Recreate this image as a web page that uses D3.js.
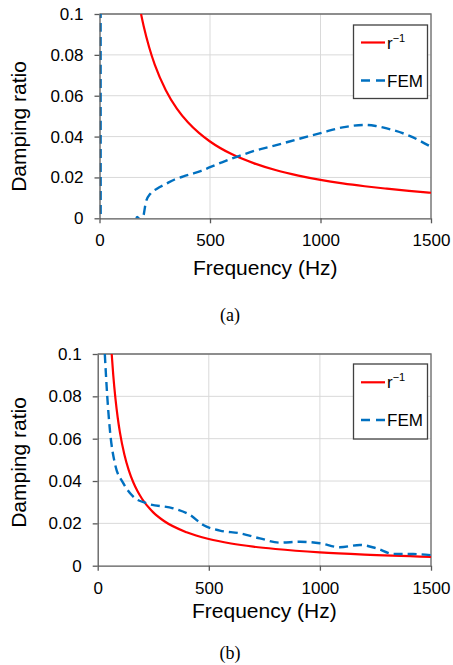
<!DOCTYPE html>
<html lang="en">
<head>
<meta charset="UTF-8">
<title>Damping ratio vs frequency</title>
<script src="https://d3js.org/d3.v7.min.js"></script>
<style>
  body { margin: 0; background: #fff; }
  svg text { font-family: "Liberation Sans", Arial, sans-serif; fill: #000; }
  .cap { font-family: "Liberation Serif", "Times New Roman", serif; }
</style>
</head>
<body>
<div id="chart"></div>
<script>
// axis ticks
const freqTicks = [0, 500, 1000, 1500];
const freqLabels = ["0", "500", "1000", "1500"];
const ratioTicks = [0, 0.02, 0.04, 0.06, 0.08, 0.1];
const ratioLabels = ["0", "0.02", "0.04", "0.06", "0.08", "0.1"];

// panel (a): [frequency Hz, damping ratio]
const topRInv = [[188,0.1],[200,0.094],[225,0.0836],[250,0.0752],[300,0.0627],[350,0.0537],
  [400,0.047],[450,0.0418],[500,0.0376],[600,0.0313],[700,0.0269],[800,0.0235],[900,0.0209],
  [1000,0.0188],[1100,0.0171],[1200,0.0157],[1300,0.0145],[1400,0.0134],[1500,0.0125]];
const topFem = [[4.5,0.5],[5.5,-0.02],[150,-0.01],[170,0.0006],[184,-0.0006],[198,0.001],
  [210,0.008],[230,0.012],[260,0.0145],[300,0.0168],[340,0.019],[380,0.0205],[420,0.0218],
  [460,0.0232],[500,0.025],[550,0.0272],[600,0.0293],[650,0.0312],[700,0.033],[800,0.0358],
  [900,0.0388],[1000,0.0417],[1100,0.0445],[1200,0.0457],[1250,0.0452],[1300,0.044],
  [1400,0.0405],[1500,0.035]];

// panel (b)
const botRInv = [[63,0.1],[70,0.09],[80,0.0788],[90,0.07],[100,0.063],[120,0.0525],[140,0.045],
  [160,0.0394],[180,0.035],[200,0.0315],[250,0.0252],[300,0.021],[400,0.0158],[500,0.0126],
  [600,0.0105],[700,0.009],[800,0.0079],[1000,0.0063],[1200,0.00525],[1500,0.0042]];
const botFem = [[32,0.1],[43,0.08],[55,0.064],[78,0.048],[115,0.039],[160,0.0326],[220,0.0295],
  [340,0.0271],[415,0.024],[475,0.0192],[550,0.0166],[640,0.0153],[730,0.0129],[820,0.0109],
  [910,0.0113],[1000,0.0106],[1090,0.0087],[1180,0.0098],[1255,0.0082],[1330,0.0056],
  [1420,0.0055],[1500,0.005]];

const W = 453, H = 665;
const svg = d3.select("#chart").append("svg").attr("width", W).attr("height", H);

function panel(id, box, rInv, fem, caption) {
  const x = d3.scaleLinear().domain([0, 1500]).range([box.x0, box.x1]);
  const y = d3.scaleLinear().domain([0, 0.1]).range([box.y0, box.y1]);
  const g = svg.append("g");

  // grid
  g.selectAll(".gy").data(ratioTicks.slice(1)).join("line")
    .attr("x1", box.x0).attr("x2", box.x1)
    .attr("y1", d => y(d)).attr("y2", d => y(d))
    .attr("stroke", "#d9d9d9").attr("stroke-width", 1);
  g.selectAll(".gx").data(freqTicks.slice(1)).join("line")
    .attr("x1", d => x(d)).attr("x2", d => x(d))
    .attr("y1", box.y0).attr("y2", box.y1)
    .attr("stroke", "#d9d9d9").attr("stroke-width", 1);

  // frame top / right
  g.append("path")
    .attr("d", `M${box.x0},${box.y1}H${box.x1}V${box.y0}`)
    .attr("fill", "none").attr("stroke", "#6e6e6e").attr("stroke-width", 1.3);

  // clip for data
  svg.append("clipPath").attr("id", id)
    .append("rect").attr("x", box.x0).attr("y", box.y1)
    .attr("width", box.x1 - box.x0).attr("height", box.y0 - box.y1);

  const line = d3.line().x(d => x(d[0])).y(d => y(d[1])).curve(d3.curveMonotoneX);
  const lines = g.append("g").attr("clip-path", `url(#${id})`);
  lines.append("path").datum(rInv).attr("d", line)
    .attr("fill", "none").attr("stroke", "#ff0000").attr("stroke-width", 2.2);
  lines.append("path").datum(fem).attr("d", line)
    .attr("fill", "none").attr("stroke", "#0070c0").attr("stroke-width", 2.4)
    .attr("stroke-dasharray", "9,5");

  // axes
  const ax = g.append("g").attr("transform", `translate(0,${box.y0})`)
    .call(d3.axisBottom(x).tickValues(freqTicks).tickFormat((d, i) => freqLabels[i])
      .tickSize(5).tickPadding(11).tickSizeOuter(0));
  const ay = g.append("g").attr("transform", `translate(${box.x0},0)`)
    .call(d3.axisLeft(y).tickValues(ratioTicks).tickFormat((d, i) => ratioLabels[i])
      .tickSize(5).tickPadding(11).tickSizeOuter(0));
  [ax, ay].forEach(a => {
    a.selectAll("path, line").attr("stroke", "#595959").attr("stroke-width", 1.3);
    a.selectAll("text").attr("font-size", 17)
      .attr("font-family", "'Liberation Sans', Arial, sans-serif").attr("fill", "#000");
  });

  // titles
  g.append("text").attr("x", (box.x0 + box.x1) / 2).attr("y", box.titleY)
    .attr("text-anchor", "middle").attr("font-size", 21).text("Frequency (Hz)");
  g.append("text").attr("transform", `translate(26,${box.ylabY}) rotate(-90)`)
    .attr("text-anchor", "middle").attr("font-size", 21).text("Damping ratio");

  // legend
  const L = box.leg;
  g.append("rect").attr("x", L.x).attr("y", L.y).attr("width", 74).attr("height", L.h)
    .attr("fill", "#fff").attr("stroke", "#404040").attr("stroke-width", 1.3);
  g.append("line").attr("x1", L.x + 7.5).attr("x2", L.x + 31.5).attr("y1", L.r).attr("y2", L.r)
    .attr("stroke", "#ff0000").attr("stroke-width", 2.2);
  g.append("line").attr("x1", L.x + 7.5).attr("x2", L.x + 31.5).attr("y1", L.f).attr("y2", L.f)
    .attr("stroke", "#0070c0").attr("stroke-width", 2.4).attr("stroke-dasharray", "9,6");
  const t1 = g.append("text").attr("x", L.x + 33.5).attr("y", L.r + 6).attr("font-size", 17).text("r");
  t1.append("tspan").attr("dy", -7).attr("font-size", 11).text("\u22121");
  g.append("text").attr("x", L.x + 33.5).attr("y", L.f + 6).attr("font-size", 17).text("FEM");

  // caption
  g.append("text").attr("class", "cap").attr("x", 230).attr("y", box.capY)
    .attr("text-anchor", "middle").attr("font-size", 18).text(caption);
}

panel("clipA", { x0: 99.5, x1: 431, y0: 218.3, y1: 14, titleY: 275, ylabY: 126.5, capY: 320.8,
  leg: { x: 353.5, y: 25, h: 73.5, r: 42.5, f: 80.5 } }, topRInv, topFem, "(a)");
panel("clipB", { x0: 97.7, x1: 431, y0: 565.7, y1: 354, titleY: 618.3, ylabY: 462.5, capY: 658.5,
  leg: { x: 353.5, y: 364, h: 75, r: 382.3, f: 420 } }, botRInv, botFem, "(b)");
</script>
</body>
</html>
